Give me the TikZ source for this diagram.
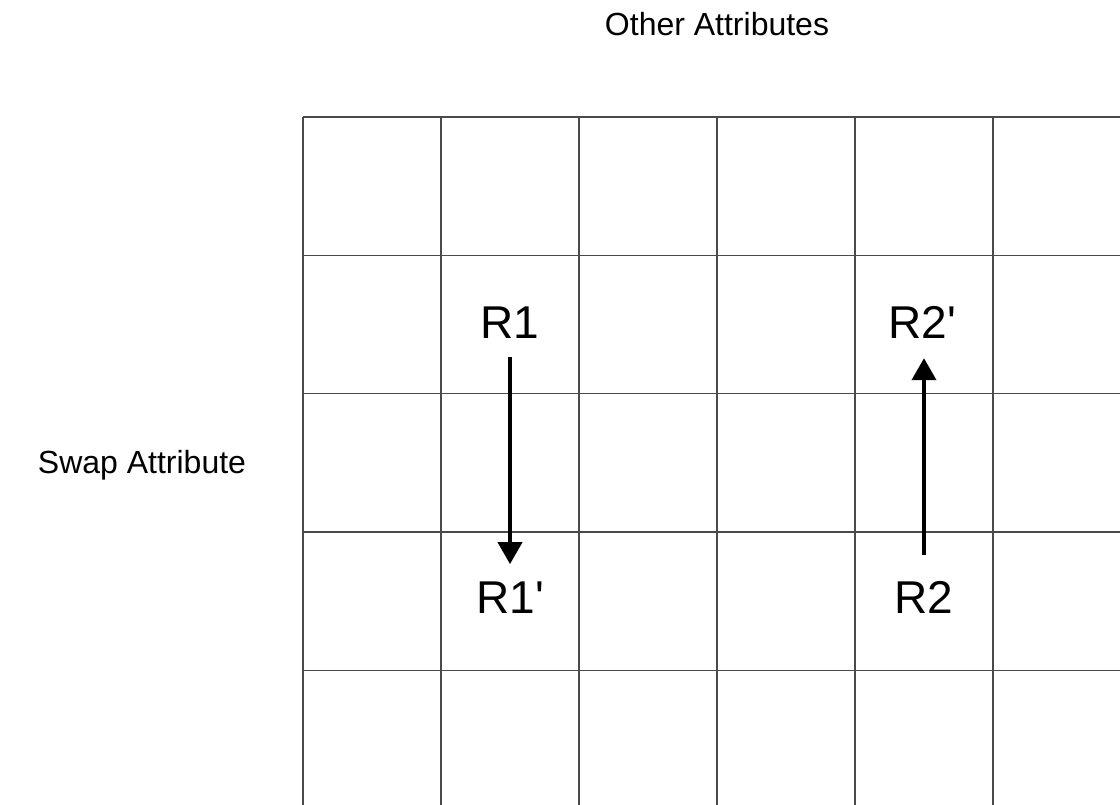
\documentclass[tikz,border=0pt]{standalone}
\usepackage{fontspec}
\setmainfont{Liberation Sans}[Ligatures=TeXOff]
\usetikzlibrary{arrows.meta}
\definecolor{gridgray}{HTML}{4A4A4A}
\tikzset{
  gridline/.style={draw=gridgray, line width=1.4bp},
  biglabel/.style={inner sep=0pt, anchor=base, font=\fontsize{46bp}{55bp}\selectfont},
  axislabel/.style={inner sep=0pt, anchor=base, font=\fontsize{32bp}{39bp}\selectfont},
  swaparrow/.style={line width=4bp, -{Triangle[width=24bp,length=22bp]}}
}
\begin{document}
\begin{tikzpicture}[x=1bp,y=-1bp]
\useasboundingbox (0,0) rectangle (1120,805);
% grid
\foreach \gx in {303,441,579,717,855,993}{
  \draw[gridline] (\gx,117) -- (\gx,805);
}
\foreach \gy in {117,255.3,393.7,532,670.3}{
  \draw[gridline] (303,\gy) -- (1120,\gy);
}
% axis labels
\node[axislabel] (other) at (717,36) {Other Attributes};
\node[axislabel] (swap) at (142,473) {Swap Attribute};
% record labels
\node[biglabel] (r1) at (510,338) {R1};
\node[biglabel] (r1p) at (510,613) {R1'};
\node[biglabel] (r2) at (924,613) {R2};
\node[biglabel] (r2p) at (922,338) {R2'};
% arrows
\draw[swaparrow, shorten <=19bp, shorten >=17bp] (r1.south) -- (r1.south |- r1p.north);
\draw[swaparrow, shorten <=26bp, shorten >=20bp] (r2.north) -- (r2.north |- r2p.south);
\end{tikzpicture}
\end{document}
